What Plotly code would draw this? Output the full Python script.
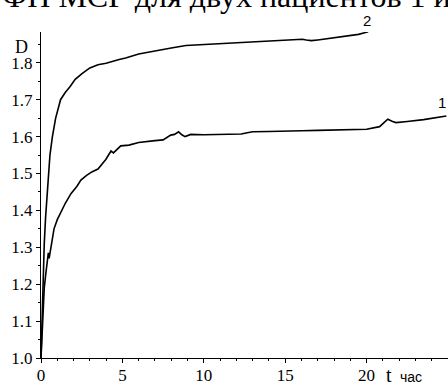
import plotly.graph_objects as go

# Curve 1 (patient 1)
t1 = [0, 0.05, 0.1, 0.15, 0.2, 0.3, 0.4, 0.45, 0.5, 0.55, 0.66, 0.8, 1.0, 1.25, 1.5, 1.85, 2.2, 2.45,
      2.8, 3.15, 3.5, 3.98, 4.2, 4.3, 4.45, 4.9, 5.4, 6.0, 7.0, 7.5, 7.97, 8.2, 8.45, 8.65, 8.85, 9.2,
      10, 11, 12.3, 12.6, 13.0, 14, 15, 16, 17, 18, 19, 20, 20.8, 21.1, 21.3, 21.6, 21.8, 22.5, 23.5, 24.9]
D1 = [1.0, 1.06, 1.11, 1.15, 1.19, 1.23, 1.265, 1.285, 1.27, 1.285, 1.32, 1.35, 1.375, 1.40, 1.42, 1.446,
      1.465, 1.482, 1.495, 1.505, 1.512, 1.538, 1.555, 1.561, 1.556, 1.575, 1.577, 1.584, 1.589, 1.591,
      1.604, 1.606, 1.613, 1.605, 1.600, 1.606, 1.605, 1.606, 1.607, 1.610, 1.613, 1.614, 1.616, 1.616,
      1.617, 1.618, 1.619, 1.620, 1.627, 1.638, 1.647, 1.641, 1.638, 1.641, 1.646, 1.656]

# Curve 2 (patient 2)
t2 = [0, 0.05, 0.1, 0.15, 0.2, 0.28, 0.36, 0.45, 0.55, 0.7, 0.9, 1.2, 1.5, 1.78, 2.1, 2.5, 3.0, 3.5,
      4.0, 4.8, 5.2, 6.0, 7.0, 8.0, 8.9, 9.7, 10.5, 11.75, 12.5, 13.8, 15.0, 16.05, 16.3, 16.6, 17.0,
      17.9, 18.9, 19.5, 20.1]
D2 = [1.0, 1.1, 1.18, 1.25, 1.31, 1.38, 1.44, 1.5, 1.55, 1.6, 1.65, 1.7, 1.72, 1.735, 1.755, 1.77,
      1.786, 1.795, 1.799, 1.809, 1.813, 1.824, 1.833, 1.84, 1.847, 1.849, 1.851, 1.855, 1.857, 1.860,
      1.862, 1.864, 1.862, 1.860, 1.862, 1.868, 1.874, 1.877, 1.884]

x_ticks = [0, 5, 10, 15, 20]
x_tick_labels = ["0", "5", "10", "15", "20"]
y_ticks = [1.0, 1.1, 1.2, 1.3, 1.4, 1.5, 1.6, 1.7, 1.8]
y_tick_labels = ["1.0", "1.1", "1.2", "1.3", "1.4", "1.5", "1.6", "1.7", "1.8"]
curve_labels = ["1", "2"]
title_text = "ФП МСГ для двух пациентов 1 и"

W, H = 448, 385
L, R, T, B = 41, 0, 32, 27
PW, PH = W - L - R, H - T - B

def px(x):
    return (x - L) / PW

def py(y):
    return (H - B - y) / PH

SERIF = "Times New Roman, Liberation Serif, serif"
SANS = "Liberation Sans, Arial, sans-serif"

fig = go.Figure()
fig.add_trace(go.Scatter(x=t1, y=D1, mode="lines", line=dict(color="black", width=1.6),
                         showlegend=False, cliponaxis=False))
fig.add_trace(go.Scatter(x=t2, y=D2, mode="lines", line=dict(color="black", width=1.6),
                         showlegend=False, cliponaxis=False))

fig.update_layout(
    width=W, height=H,
    margin=dict(l=L, r=R, t=T, b=B, pad=0, autoexpand=False),
    paper_bgcolor="white", plot_bgcolor="white",
    font=dict(family=SERIF, size=17, color="black"),
    xaxis=dict(range=[0, PW / 16.28], tickmode="array", tickvals=x_ticks, ticktext=x_tick_labels,
               automargin=False, ticklabelstandoff=-2,
               showline=True, linecolor="black", linewidth=1, showgrid=False, zeroline=False,
               ticks="outside", ticklen=4, tickcolor="black", tickwidth=1,
               minor=dict(dtick=1, ticks="outside", ticklen=2, tickcolor="black", showgrid=False),
               tickfont=dict(family=SERIF, size=17, color="black")),
    yaxis=dict(range=[1.0, 1.0 + PH / 369.0], tickmode="array", tickvals=y_ticks, ticktext=y_tick_labels,
               automargin=False,
               showline=True, linecolor="black", linewidth=1, showgrid=False, zeroline=False,
               ticks="outside", ticklen=4, tickcolor="black", tickwidth=1,
               minor=dict(dtick=0.05, tick0=1.0, ticks="outside", ticklen=2, tickcolor="black", showgrid=False),
               tickfont=dict(family=SERIF, size=17, color="black")),
)

ann = [
    dict(text=title_text, x=px(0), y=py(16), xanchor="left", yanchor="bottom",
         font=dict(family=SERIF, size=32)),
    dict(text="D", x=px(21), y=py(47), xanchor="center", yanchor="middle",
         font=dict(family=SERIF, size=18)),
    dict(text="t", x=px(389), y=py(375), xanchor="center", yanchor="middle",
         font=dict(family=SERIF, size=20)),
    dict(text="час", x=px(411), y=py(377), xanchor="center", yanchor="middle",
         font=dict(family=SANS, size=14)),
    dict(text=curve_labels[0], x=px(442), y=py(103), xanchor="center", yanchor="middle",
         font=dict(family=SANS, size=15)),
    dict(text=curve_labels[1], x=px(367), y=py(21), xanchor="center", yanchor="middle",
         font=dict(family=SANS, size=15)),
]
for a in ann:
    fig.add_annotation(xref="paper", yref="paper", showarrow=False, **a)

fig.write_html("out.html", config={"displayModeBar": False},
               post_script="document.body.style.margin='0';document.body.style.overflow='hidden';")
